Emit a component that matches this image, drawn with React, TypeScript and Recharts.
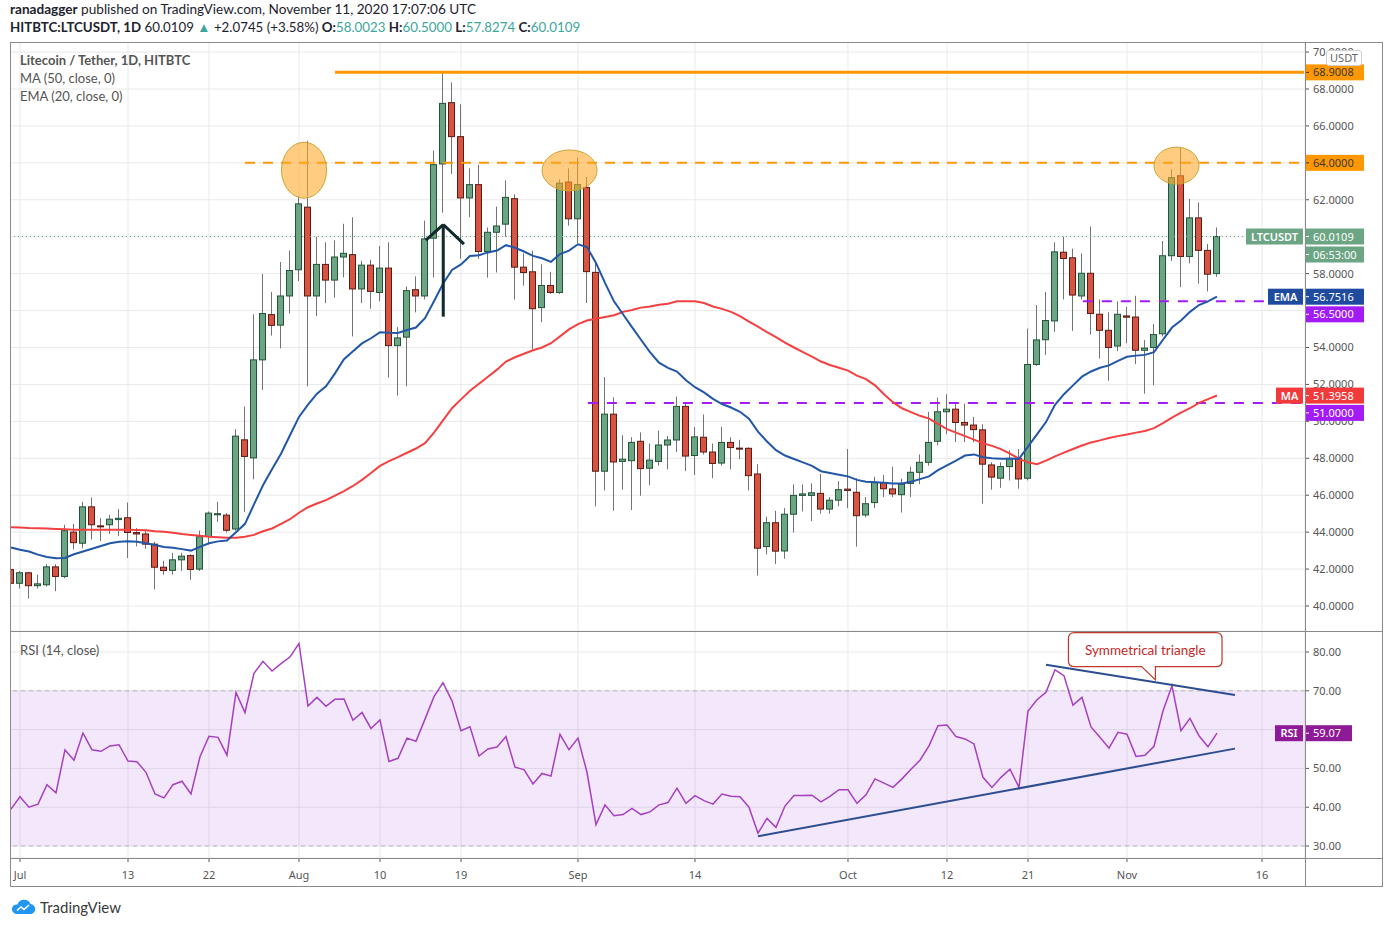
import React from 'react';
import {
  ComposedChart,
  Bar,
  Line,
  XAxis,
  YAxis,
  CartesianGrid,
  ReferenceLine,
  ReferenceDot,
  ReferenceArea,
} from 'recharts';

// day 0 = Jul 1 2020, the first candle is Jun 30
const FIRST_DAY = -1;
const X_DOMAIN: [number, number] = [-1.11, 142.78];
const PRICE_DOMAIN: [number, number] = [38.646, 70.545];
const RSI_DOMAIN: [number, number] = [26.91, 85.41];

// rows of 10, first row has Jun 30 in front
const opens = [
  41.97, 41.23, 41.8, 41.1, 41.15, 42.12, 41.6, 44.0, 43.4, 45.37, 44.34,
  44.4, 44.68, 44.78, 43.98, 43.9, 43.35, 42.1, 41.93, 42.5, 42.73,
  42.0, 43.76, 44.94, 44.92, 44.17, 49.0, 48.02, 53.33, 55.78, 55.21,
  56.79, 58.21, 61.6, 56.79, 58.5, 57.65, 58.9, 59.03, 57.17, 58.46,
  56.98, 58.3, 54.1, 54.56, 57.13, 56.79, 59.92, 63.94, 67.26, 65.42,
  62.1, 62.82, 59.2, 60.24, 60.68, 62.06, 58.35, 58.1, 56.16, 57.36,
  56.98, 62.96, 60.97, 62.67, 58.07, 47.3, 50.39, 47.83, 47.87, 48.92,
  47.46, 47.83, 48.72, 48.99, 50.81, 48.15, 49.14, 48.34, 47.74, 48.86,
  48.55, 48.54, 47.15, 43.22, 44.51, 42.98, 44.97, 45.99, 45.99, 46.1,
  45.25, 45.73, 46.33, 46.16, 44.93, 45.6, 46.68, 46.34, 46.03, 46.64,
  47.24, 47.78, 48.92, 50.52, 50.66, 49.94, 49.8, 49.54, 47.64, 46.92,
  47.55, 48.0, 46.92, 53.08, 54.42, 55.44, 59.16, 58.86, 56.79, 58.02,
  55.8, 54.93, 54.08, 55.71, 55.65, 53.85, 54.0, 54.74, 58.97, 63.3,
  58.93, 61.02, 59.26, 58.0023,
];
const highs = [
  42.1, 41.9, 41.85, 41.7, 42.27, 42.27, 44.4, 44.45, 45.64, 45.88, 44.76,
  44.94, 45.25, 45.6, 44.22, 44.13, 43.48, 42.45, 42.88, 42.88, 42.8,
  44.08, 45.12, 45.64, 45.03, 49.58, 50.8, 55.8, 57.98, 57.0, 58.63,
  59.25, 62.2, 65.2, 60.0, 59.7, 59.8, 60.7, 61.05, 58.7, 58.75,
  59.5, 59.7, 55.1, 57.3, 57.85, 60.87, 64.66, 68.93, 68.36, 67.17,
  63.7, 63.9, 60.5, 61.63, 63.05, 62.3, 59.1, 59.25, 58.5, 58.1,
  63.1, 63.7, 64.28, 63.24, 58.6, 52.4, 51.3, 49.25, 49.14, 49.4,
  48.8, 49.5, 49.2, 51.34, 51.0, 49.7, 50.37, 48.8, 49.7, 49.14,
  49.0, 48.6, 47.68, 44.84, 45.16, 45.3, 46.58, 46.58, 46.64, 47.15,
  45.9, 46.76, 48.5, 46.92, 45.9, 47.0, 47.1, 47.54, 46.9, 47.54,
  48.2, 50.52, 51.28, 51.47, 50.96, 50.96, 50.24, 49.84, 47.78, 47.78,
  48.44, 48.5, 55.02, 56.3, 57.0, 59.7, 60.0, 59.35, 59.1, 60.55,
  56.6, 55.9, 56.5, 56.2, 56.8, 54.4, 55.27, 59.77, 63.66, 64.8,
  62.04, 61.85, 59.6, 60.5,
];
const lows = [
  40.66, 40.95, 40.4, 40.95, 41.05, 40.8, 41.5, 43.07, 43.12, 43.6, 43.52,
  43.9, 43.8, 42.6, 43.23, 43.1, 40.9, 41.7, 41.7, 41.9, 41.42,
  41.9, 43.33, 44.56, 43.98, 44.08, 45.1, 46.86, 51.7, 54.65, 53.95,
  55.84, 57.6, 51.9, 55.7, 56.4, 56.7, 57.8, 54.6, 56.4, 56.1,
  56.5, 52.37, 51.4, 51.9, 55.9, 56.6, 57.8, 61.3, 63.4, 58.8,
  61.06, 58.8, 57.78, 58.06, 60.0, 56.6, 57.35, 53.9, 55.37, 56.9,
  56.9, 60.6, 59.63, 56.41, 45.4, 46.26, 45.16, 46.3, 45.2, 45.97,
  46.54, 47.6, 47.4, 48.34, 47.3, 47.1, 48.2, 46.92, 47.6, 47.4,
  47.95, 46.26, 41.65, 42.79, 42.28, 42.56, 43.98, 45.12, 44.6, 45.0,
  45.0, 45.4, 45.3, 43.22, 44.8, 45.3, 45.9, 45.9, 45.06, 45.9,
  46.6, 47.6, 48.7, 49.3, 48.88, 48.88, 48.87, 45.54, 46.3, 46.4,
  46.8, 46.35, 46.8, 53.0, 53.6, 54.85, 56.6, 54.9, 56.6, 54.7,
  53.4, 52.2, 53.8, 54.23, 53.1, 51.5, 51.95, 54.6, 58.69, 57.27,
  58.56, 57.46, 57.04, 57.8274,
];
const closes = [
  41.23, 41.8, 41.1, 41.2, 42.12, 41.6, 44.08, 43.43, 45.37, 44.4, 44.3,
  44.7, 44.75, 43.98, 43.9, 43.35, 42.1, 41.92, 42.5, 42.7, 41.98,
  43.75, 45.03, 45.0, 44.1, 49.2, 48.1, 53.33, 55.84, 55.2, 56.79,
  58.17, 61.78, 56.79, 58.5, 57.65, 58.9, 59.1, 57.17, 58.46, 57.04,
  58.3, 54.1, 54.52, 57.08, 56.79, 59.88, 63.9, 67.22, 65.42, 62.1,
  62.82, 59.2, 60.24, 60.58, 62.13, 58.35, 58.06, 56.1, 57.36, 56.98,
  62.9, 60.97, 62.82, 58.11, 47.3, 50.39, 47.8, 47.95, 48.86, 47.44,
  47.9, 48.72, 48.99, 50.81, 48.12, 49.16, 48.34, 47.72, 48.86, 48.58,
  48.5, 47.06, 43.13, 44.51, 42.97, 44.97, 45.99, 46.07, 46.13, 45.25,
  45.73, 46.3, 46.26, 44.89, 45.54, 46.7, 46.35, 46.07, 46.6, 47.24,
  47.78, 48.86, 50.52, 50.66, 49.94, 49.8, 49.55, 47.68, 46.98, 47.55,
  48.0, 46.88, 53.08, 54.41, 55.46, 59.18, 58.82, 56.84, 58.02, 55.84,
  54.93, 54.0, 55.8, 55.64, 53.85, 53.97, 54.7, 58.97, 63.2, 58.93,
  61.02, 59.26, 57.97, 60.0109,
];
const ema20 = [
  43.17, 43.05, 42.95, 42.78, 42.65, 42.58, 42.6, 42.8, 42.95, 43.1, 43.25,
  43.4, 43.48, 43.5, 43.48, 43.4, 43.3, 43.2, 43.15, 43.08, 43.0,
  43.2, 43.4, 43.5, 43.55, 44.0, 44.45, 45.5, 46.54, 47.4, 48.25,
  49.25, 50.24, 50.9, 51.5, 51.9, 52.6, 53.37, 53.8, 54.22, 54.5,
  54.83, 54.8, 54.79, 54.95, 55.08, 55.59, 56.5, 57.45, 58.2, 58.5,
  58.96, 59.0, 59.15, 59.25, 59.54, 59.4, 59.2, 58.96, 58.83, 58.64,
  59.06, 59.25, 59.59, 59.44, 58.58, 57.5, 56.5, 55.8, 55.1, 54.42,
  53.75, 53.18, 52.9, 52.7, 52.23, 51.85, 51.57, 51.22, 50.94, 50.75,
  50.52, 50.14, 49.44, 48.91, 48.44, 48.15, 47.96, 47.78, 47.59, 47.3,
  47.2, 47.11, 47.02, 46.83, 46.73, 46.7, 46.68, 46.64, 46.64, 46.73,
  46.87, 47.02, 47.36, 47.62, 47.87, 48.15, 48.21, 48.06, 48.0, 47.97,
  47.97, 47.97, 48.63, 49.29, 49.96, 50.9, 51.47, 51.95, 52.42, 52.7,
  52.9, 53.03, 53.28, 53.5, 53.56, 53.6, 53.75, 54.42, 55.08, 55.46,
  55.93, 56.3, 56.5, 56.75,
];
const ma50 = [
  44.27, 44.25, 44.22, 44.21, 44.2, 44.17, 44.15, 44.13, 44.13, 44.13, 44.13,
  44.13, 44.13, 44.13, 44.12, 44.1, 44.05, 44.02, 43.97, 43.9, 43.85,
  43.8, 43.75, 43.72, 43.7, 43.7, 43.75, 43.85, 44.05, 44.2, 44.45,
  44.7, 45.05, 45.35, 45.55, 45.73, 45.98, 46.22, 46.5, 46.83, 47.2,
  47.59, 47.85, 48.06, 48.3, 48.53, 48.82, 49.39, 50.05, 50.71, 51.19,
  51.66, 52.04, 52.42, 52.8, 53.24, 53.47, 53.66, 53.85, 54.0, 54.23,
  54.6, 54.98, 55.27, 55.46, 55.56, 55.65, 55.75, 55.93, 56.03, 56.16,
  56.22, 56.31, 56.37, 56.5, 56.5, 56.5, 56.41, 56.22, 56.09, 55.93,
  55.7, 55.4, 55.13, 54.83, 54.56, 54.26, 54.0, 53.75, 53.5, 53.24,
  53.05, 52.9, 52.75, 52.48, 52.29, 51.95, 51.47, 51.04, 50.71, 50.5,
  50.3, 50.15, 49.86, 49.58, 49.39, 49.2, 49.01, 48.82, 48.67, 48.5,
  48.25, 47.97, 47.78, 47.68, 47.87, 48.1, 48.31, 48.5, 48.69, 48.86,
  48.97, 49.1, 49.2, 49.29, 49.39, 49.48, 49.63, 49.9, 50.2, 50.47,
  50.71, 51.0, 51.2, 51.4,
];
const rsi14 = [
  39.5, 42.7, 40.0, 40.8, 45.8, 43.7, 54.8, 52.1, 59.1, 54.8, 54.4,
  55.8, 56.1, 51.9, 51.7, 49.0, 43.4, 42.4, 45.8, 46.7, 43.4,
  53.0, 58.3, 58.0, 53.4, 69.6, 64.4, 74.5, 77.6, 75.1, 77.0,
  78.7, 82.2, 66.1, 68.3, 66.0, 67.8, 67.9, 62.4, 64.4, 60.3,
  62.5, 51.8, 52.6, 57.8, 57.0, 62.7, 68.5, 72.1, 67.4, 59.7,
  60.7, 53.2, 55.0, 55.5, 58.2, 50.3, 49.7, 46.0, 48.7, 48.0,
  58.8, 54.8, 57.8, 49.0, 35.5, 40.6, 37.8, 38.1, 39.7, 38.1,
  38.8, 40.6, 41.2, 44.9, 41.0, 43.0, 41.7, 40.8, 43.4, 42.8,
  42.7, 40.0, 33.3, 37.1, 34.8, 40.3, 43.0, 43.0, 43.1, 41.4,
  42.8, 44.5, 44.5, 41.0, 43.2, 47.3, 46.2, 45.1, 47.3, 49.8,
  52.1, 55.8, 61.0, 61.2, 58.2, 57.6, 56.3, 47.7, 45.1, 47.7,
  49.8, 45.1, 64.8, 67.7, 69.6, 75.4, 73.9, 66.3, 68.3, 60.7,
  58.0, 55.2, 59.3, 58.8, 53.1, 53.4, 55.7, 64.8, 71.3, 59.7,
  62.9, 58.4, 55.6, 59.07,
];

const tickDays = [0, 12, 21, 31, 40, 49, 62, 75, 92, 103, 112, 123, 138];
const tickLabels = ['Jul', '13', '22', 'Aug', '10', '19', 'Sep', '14', 'Oct', '12', '21', 'Nov', '16'];
const priceTicks = [40, 42, 44, 46, 48, 50, 52, 54, 56, 58, 60, 62, 64, 66, 68, 70];
const rsiTicks = [30, 40, 50, 60, 70, 80];
// axis labels that sit fully under a price tag in the original
const coveredPrice = [56, 60];
const coveredRsi = [60];

const priceRows = opens.map((o, i) => ({
  d: i + FIRST_DAY,
  o,
  h: highs[i],
  l: lows[i],
  c: closes[i],
  ema: ema20[i],
  ma: ma50[i],
}));
const rsiRows = rsi14.map((v, i) => ({ d: i + FIRST_DAY, rsi: v }));

const AXIS_FONT = '"Noto Sans", "Open Sans", sans-serif';
const UI_FONT = 'Lato, "Noto Sans", sans-serif';
const FRAME = '#8a8a8a';
const GRID = '#e9e9e9';
const TEAL = '#3da69a';
const PURPLE = '#a31cf7';
const ORANGE = '#ff9800';

const W = 1373;
const PRICE_H = 589;
const RSI_H = 256;
const AXIS_W = 78;
const XAXIS_H = 29;

const labelOf = (v: number) => tickLabels[tickDays.indexOf(v)] ?? '';

const Candle = (props: any) => {
  const { x, y, width, height, payload } = props;
  if (!payload || x == null) return null;
  const { o, h, l, c } = payload;
  const top = Math.min(y, y + height);
  const bottom = Math.max(y, y + height);
  const k = h > l ? (bottom - top) / (h - l) : 0;
  const toY = (v: number) => top + (h - v) * k;
  const up = c >= o;
  const bodyTop = toY(Math.max(o, c));
  const bodyH = Math.max(1, toY(Math.min(o, c)) - bodyTop);
  const mid = Math.round(x + width / 2) + 0.5;
  return (
    <g>
      <line x1={mid} x2={mid} y1={top} y2={bottom} stroke="#737375" strokeWidth={1} />
      <rect
        x={mid - width / 2}
        y={bodyTop}
        width={width}
        height={bodyH}
        fill={up ? '#6ba583' : '#d75442'}
        stroke={up ? '#225437' : '#5b1a13'}
        strokeWidth={1}
      />
    </g>
  );
};

const AxisTick = ({ x, y, payload, covered, digits }: any) => {
  if (covered.includes(payload.value)) return null;
  return (
    <text x={x} y={y} dy="0.36em" textAnchor="start" fill="#555" fontSize={11} fontFamily={AXIS_FONT}>
      {Number(payload.value).toFixed(digits)}
    </text>
  );
};

type TagProps = {
  viewBox?: any;
  text: string;
  bg: string;
  fg?: string;
  dy?: number;
  w?: number;
  left?: boolean;
};

// price tag drawn on the right axis (or just left of it)
const Tag = ({ viewBox, text, bg, fg = '#fff', dy = 0, w = 59, left = false }: TagProps) => {
  if (!viewBox) return null;
  const axisX = viewBox.x + viewBox.width;
  const cy = viewBox.y + dy;
  const x = left ? axisX - 2 - w : axisX;
  return (
    <g>
      <rect x={x} y={cy - 8} width={w} height={16} fill={bg} />
      {!left && <line x1={x} x2={x + 4} y1={cy} y2={cy} stroke={fg} strokeWidth={1} />}
      <text
        x={left ? x + w / 2 : x + 8}
        y={cy + 4}
        textAnchor={left ? 'middle' : 'start'}
        fill={fg}
        fontSize={11}
        fontWeight={left ? 600 : 400}
        fontFamily={AXIS_FONT}
      >
        {text}
      </text>
    </g>
  );
};

const Blob = (rx: number, ry: number) => (p: any) => (
  <ellipse cx={p.cx} cy={p.cy} rx={rx} ry={ry} fill="#ffa726" fillOpacity={0.58} stroke="#c9a534" strokeWidth={1} />
);

const Callout = (p: any) => {
  const { cx, cy } = p;
  const L = cx - 87, R = cx + 66.6, T = cy - 47.3, B = cy - 13.3, r = 6;
  const d = [
    `M${L + r},${T}`, `H${R - r}`, `Q${R},${T} ${R},${T + r}`, `V${B - r}`,
    `Q${R},${B} ${R - r},${B}`, `H${cx}`, `L${cx},${cy}`, `L${cx - 13.8},${B}`,
    `H${L + r}`, `Q${L},${B} ${L},${B - r}`, `V${T + r}`, `Q${L},${T} ${L + r},${T}`, 'Z',
  ].join(' ');
  return (
    <g>
      <path d={d} fill="#fff" stroke="#c0392b" strokeWidth={1.2} />
      <text x={(L + R) / 2} y={(T + B) / 2 + 5} textAnchor="middle" fill="#c62828" fontSize={13.5} fontFamily={UI_FONT}>
        Symmetrical triangle
      </text>
    </g>
  );
};

const xTick = { fill: '#555', fontSize: 11, fontFamily: AXIS_FONT };

// bottom layer: grid and the axis labels
const PriceBase = () => (
  <ComposedChart width={W} height={PRICE_H} data={priceRows} margin={{ top: 0, right: 0, bottom: 0, left: 0 }}>
    <CartesianGrid stroke={GRID} />
    <XAxis type="number" dataKey="d" domain={X_DOMAIN} ticks={tickDays} allowDataOverflow hide />
    <YAxis
      orientation="right"
      width={AXIS_W}
      domain={PRICE_DOMAIN}
      ticks={priceTicks}
      interval={0}
      allowDataOverflow
      axisLine={false}
      tickLine={{ stroke: '#555' }}
      tickSize={4}
      tickMargin={4}
      tick={<AxisTick covered={coveredPrice} digits={4} />}
    />
  </ComposedChart>
);

// top layer: candles, averages, drawings and price tags
const PriceTop = () => (
  <ComposedChart width={W} height={PRICE_H} data={priceRows} margin={{ top: 0, right: AXIS_W, bottom: 0, left: 0 }}>
    <XAxis type="number" dataKey="d" domain={X_DOMAIN} allowDataOverflow hide />
    <YAxis domain={PRICE_DOMAIN} allowDataOverflow hide />
    <ReferenceLine y={60.0109} stroke="#6ba583" strokeDasharray="1 3" />
    <ReferenceLine segment={[{ x: 63.1, y: 51 }, { x: 142.7, y: 51 }]} stroke={PURPLE} strokeWidth={2} strokeDasharray="10 9" />
    <ReferenceLine segment={[{ x: 118.1, y: 56.5 }, { x: 142.7, y: 56.5 }]} stroke={PURPLE} strokeWidth={2} strokeDasharray="10 9" />
    <ReferenceLine segment={[{ x: 25, y: 64 }, { x: 142.7, y: 64 }]} stroke={ORANGE} strokeWidth={2} strokeDasharray="10 8" />
    <Bar dataKey={(r: any) => [r.l, r.h]} barSize={6} shape={Candle} isAnimationActive={false} />
    <Line dataKey="ma" type="linear" stroke="#f44040" strokeWidth={2} dot={false} isAnimationActive={false} />
    <Line dataKey="ema" type="linear" stroke="#2157a6" strokeWidth={2} dot={false} isAnimationActive={false} />
    <ReferenceLine segment={[{ x: 35, y: 68.9008 }, { x: 142.7, y: 68.9008 }]} stroke={ORANGE} strokeWidth={3} />
    <ReferenceDot x={31.56} y={63.6} r={1} shape={Blob(22.5, 28)} />
    <ReferenceDot x={61.06} y={63.59} r={1} shape={Blob(27.5, 20.5)} />
    <ReferenceDot x={128.5} y={63.85} r={1} shape={Blob(22.5, 18.5)} />
    <ReferenceLine segment={[{ x: 47.03, y: 55.67 }, { x: 47.03, y: 60.66 }]} stroke="#10292b" strokeWidth={3} />
    <ReferenceLine segment={[{ x: 45.1, y: 59.82 }, { x: 47.03, y: 60.66 }]} stroke="#10292b" strokeWidth={3} />
    <ReferenceLine segment={[{ x: 47.03, y: 60.66 }, { x: 49.33, y: 59.6 }]} stroke="#10292b" strokeWidth={3} />
    <ReferenceLine y={68.9008} stroke="none" label={<Tag text="68.9008" bg={ORANGE} fg="#3a3a3a" />} />
    <ReferenceLine y={64} stroke="none" label={<Tag text="64.0000" bg={ORANGE} fg="#3a3a3a" />} />
    <ReferenceLine y={60.0109} stroke="none" label={<Tag text="60.0109" bg="#6ba583" />} />
    <ReferenceLine y={60.0109} stroke="none" label={<Tag text="LTCUSDT" bg="#6ba583" w={57} left />} />
    <ReferenceLine y={60.0109} stroke="none" label={<Tag text="06:53:00" bg="#6ba583" dy={18} />} />
    <ReferenceLine y={56.7516} stroke="none" label={<Tag text="56.7516" bg="#1e4ba0" />} />
    <ReferenceLine y={56.7516} stroke="none" label={<Tag text="EMA" bg="#1e4ba0" w={35} left />} />
    <ReferenceLine y={56.5} stroke="none" label={<Tag text="56.5000" bg={PURPLE} dy={13} />} />
    <ReferenceLine y={51.3958} stroke="none" label={<Tag text="51.3958" bg="#f23a3a" />} />
    <ReferenceLine y={51.3958} stroke="none" label={<Tag text="MA" bg="#f23a3a" w={27} left />} />
    <ReferenceLine y={51} stroke="none" label={<Tag text="51.0000" bg={PURPLE} dy={10} />} />
  </ComposedChart>
);

const RsiBase = () => (
  <ComposedChart width={W} height={RSI_H} data={rsiRows} margin={{ top: 0, right: 0, bottom: 0, left: 0 }}>
    <CartesianGrid stroke={GRID} />
    <XAxis
      type="number"
      dataKey="d"
      domain={X_DOMAIN}
      ticks={tickDays}
      interval={0}
      allowDataOverflow
      height={XAXIS_H}
      axisLine={false}
      tickLine={{ stroke: '#555' }}
      tickSize={4}
      tickMargin={9}
      tick={xTick}
      tickFormatter={labelOf}
    />
    <YAxis
      orientation="right"
      width={AXIS_W}
      domain={RSI_DOMAIN}
      ticks={rsiTicks}
      interval={0}
      allowDataOverflow
      axisLine={false}
      tickLine={{ stroke: '#555' }}
      tickSize={4}
      tickMargin={4}
      tick={<AxisTick covered={coveredRsi} digits={2} />}
    />
    <ReferenceArea y1={30} y2={70} fill="#a03ce0" fillOpacity={0.12} stroke="none" />
    <ReferenceLine y={70} stroke="#b5b5b5" strokeDasharray="4 4" />
    <ReferenceLine y={30} stroke="#b5b5b5" strokeDasharray="4 4" />
  </ComposedChart>
);

const RsiTop = () => (
  <ComposedChart width={W} height={RSI_H} data={rsiRows} margin={{ top: 0, right: AXIS_W, bottom: XAXIS_H, left: 0 }}>
    <XAxis type="number" dataKey="d" domain={X_DOMAIN} allowDataOverflow hide />
    <YAxis domain={RSI_DOMAIN} allowDataOverflow hide />
    <Line dataKey="rsi" type="linear" stroke="#a640c0" strokeWidth={1.5} dot={false} isAnimationActive={false} />
    <ReferenceLine segment={[{ x: 82, y: 32.5 }, { x: 135, y: 55.1 }]} stroke="#2c4d8f" strokeWidth={2} />
    <ReferenceLine segment={[{ x: 114, y: 76.7 }, { x: 135, y: 68.9 }]} stroke="#2c4d8f" strokeWidth={2} />
    <ReferenceDot x={126.16} y={72.8} r={1} shape={Callout} />
    <ReferenceLine y={59.07} stroke="none" label={<Tag text="59.07" bg="#8e1a98" w={47} />} />
    <ReferenceLine y={59.07} stroke="none" label={<Tag text="RSI" bg="#8e1a98" w={28} left />} />
  </ComposedChart>
);

const abs = (left: number, top: number, extra: React.CSSProperties = {}): React.CSSProperties => ({
  position: 'absolute',
  left,
  top,
  ...extra,
});

export default function App() {
  const teal = { color: TEAL };
  return (
    <div style={{ position: 'absolute', left: 0, top: 0, width: 1399, height: 926, background: '#fff', fontFamily: UI_FONT, color: '#1e222d', overflow: 'hidden' }}>
      <div style={abs(10, -1, { fontSize: 13.6, lineHeight: '20px', whiteSpace: 'nowrap' })}>
        <b>ranadagger</b> published on TradingView.com, November 11, 2020 17:07:06 UTC
      </div>
      <div style={abs(10, 17, { fontSize: 13.3, lineHeight: '20px', whiteSpace: 'nowrap' })}>
        <b>HITBTC:LTCUSDT, 1D</b> 60.0109 <span style={teal}>▲</span> +2.0745 (+3.58%) <b>O:</b>
        <span style={teal}>58.0023</span> <b>H:</b><span style={teal}>60.5000</span> <b>L:</b>
        <span style={teal}>57.8274</span> <b>C:</b><span style={teal}>60.0109</span>
      </div>

      <div style={abs(10, 42)}>
        <PriceBase />
      </div>
      <div style={abs(10, 42)}>
        <PriceTop />
      </div>
      <div style={abs(10, 631)}>
        <RsiBase />
      </div>
      <div style={abs(10, 631)}>
        <RsiTop />
      </div>

      <div style={abs(20, 51, { fontSize: 13, lineHeight: '18px', color: '#555', whiteSpace: 'nowrap' })}>
        <div style={{ fontWeight: 700 }}>Litecoin / Tether, 1D, HITBTC</div>
        <div>MA (50, close, 0)</div>
        <div>EMA (20, close, 0)</div>
      </div>
      <div style={abs(20, 641, { fontSize: 13, lineHeight: '18px', color: '#555' })}>RSI (14, close)</div>

      <div style={abs(1326, 50, { width: 36, height: 16, background: '#fff', border: '1px solid #cfcfcf', borderRadius: 3, boxSizing: 'border-box', fontSize: 11, lineHeight: '14px', color: '#666', textAlign: 'center', fontFamily: AXIS_FONT })}>
        USDT
      </div>

      {/* frame and panel separators */}
      <div style={abs(10, 42, { width: 1373, height: 845, border: `1px solid ${FRAME}`, boxSizing: 'border-box', pointerEvents: 'none' })} />
      <div style={abs(10, 631, { width: 1373, height: 1, background: FRAME })} />
      <div style={abs(10, 858, { width: 1373, height: 1, background: FRAME })} />
      <div style={abs(1305, 42, { width: 1, height: 845, background: FRAME })} />

      <div style={abs(10, 898, { display: 'flex', alignItems: 'center', gap: 4 })}>
        <svg width={26} height={18} viewBox="0 0 26 18">
          <path d="M6 16 H20 A5 5 0 0 0 20.5 6 A7 7 0 0 0 7.5 6.5 A4.8 4.8 0 0 0 6 16 Z" fill="#2196f3" />
          <path d="M7 12.5 L11 9 L14 11.5 L19 7" stroke="#fff" strokeWidth={1.6} fill="none" />
        </svg>
        <span style={{ fontSize: 15, fontWeight: 400, color: '#3a3a3a' }}>TradingView</span>
      </div>
    </div>
  );
}
